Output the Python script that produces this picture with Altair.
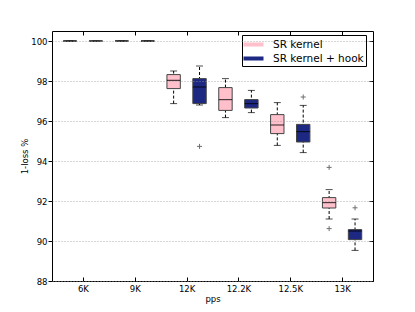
import json
import altair as alt
import pandas as pd

categories = ["6K", "9K", "12K", "12.2K", "12.5K", "13K"]
series = ["SR kernel", "SR kernel + hook"]
colors = ["#ffc0cb", "#1c2882"]

kernel_low = [100, 100, 96.87, 96.17, 94.78, 91.10]
kernel_q1 = [100, 100, 97.62, 96.53, 95.37, 91.65]
kernel_median = [100, 100, 98.03, 97.07, 95.80, 91.92]
kernel_q3 = [100, 100, 98.32, 97.67, 96.32, 92.17]
kernel_high = [100, 100, 98.50, 98.12, 96.92, 92.57]

hook_low = [100, 100, 96.80, 96.42, 94.42, 89.53]
hook_q1 = [100, 100, 96.87, 96.65, 94.95, 90.07]
hook_median = [100, 100, 97.70, 96.87, 95.47, 90.50]
hook_q3 = [100, 100, 98.12, 97.07, 95.83, 90.57]
hook_high = [100, 100, 98.75, 97.53, 96.78, 91.10]

outlier_category = ["13K", "13K", "12K", "12.5K", "13K"]
outlier_series = ["SR kernel", "SR kernel", "SR kernel + hook", "SR kernel + hook", "SR kernel + hook"]
outlier_value = [93.68, 90.62, 94.73, 97.20, 91.66]

y_ticks = [88, 90, 92, 94, 96, 98, 100]

stats = {
    "SR kernel": (kernel_low, kernel_q1, kernel_median, kernel_q3, kernel_high),
    "SR kernel + hook": (hook_low, hook_q1, hook_median, hook_q3, hook_high),
}

rows = []
for si, s in enumerate(series):
    lo, q1, med, q3, hi = stats[s]
    for ci, c in enumerate(categories):
        rows.append({"category": c, "series": s, "pos": 2 * ci + si + 1,
                     "low": lo[ci], "q1": q1[ci], "median": med[ci],
                     "q3": q3[ci], "high": hi[ci]})
df = pd.DataFrame(rows)

out_rows = []
for c, s, v in zip(outlier_category, outlier_series, outlier_value):
    out_rows.append({"category": c, "series": s,
                     "pos": 2 * categories.index(c) + series.index(s) + 1, "value": v})
odf = pd.DataFrame(out_rows)

x_ticks = [2 * i + 1.5 for i in range(len(categories))]
label_expr = json.dumps(categories) + "[floor(datum.value / 2)]"

FONT = "DejaVu Sans"
x_scale = alt.Scale(domain=[0.5, 12.5], nice=False, zero=False)
y_scale = alt.Scale(domain=[88, 100.5], nice=False, zero=False)

base = alt.Chart(df)

# whiskers (also carries the inward top/right ticks)
whiskers = base.mark_rule(color="black", strokeWidth=1, strokeDash=[3, 2]).encode(
    x=alt.X("pos:Q", scale=x_scale,
            axis=alt.Axis(orient="top", offset=-4, tickSize=4, labels=False, domain=False,
                          grid=False, title=None, values=x_ticks, tickColor="black")),
    y=alt.Y("low:Q", scale=y_scale,
            axis=alt.Axis(orient="right", offset=-4, tickSize=4, labels=False, domain=False,
                          grid=False, title=None, values=y_ticks, tickColor="black")),
    y2="high:Q",
)

caps_low = base.mark_tick(orient="horizontal", size=7, thickness=1, color="black").encode(
    x=alt.X("pos:Q", scale=x_scale, axis=None),
    y=alt.Y("low:Q", scale=y_scale, axis=None),
)
caps_high = base.mark_tick(orient="horizontal", size=7, thickness=1, color="black").encode(
    x=alt.X("pos:Q", scale=x_scale, axis=None),
    y=alt.Y("high:Q", scale=y_scale, axis=None),
)

boxes = base.mark_bar(size=13.4, stroke="#444444", strokeWidth=1).encode(
    x=alt.X("pos:Q", scale=x_scale,
            axis=alt.Axis(orient="bottom", offset=-4, tickSize=4, values=x_ticks,
                          labelExpr=label_expr, domain=False, grid=False, title="pps",
                          labelPadding=3, titlePadding=2, tickColor="black")),
    y=alt.Y("q1:Q", scale=y_scale,
            axis=alt.Axis(orient="left", values=y_ticks, tickSize=4, labelPadding=1,
                          domain=False, grid=True, gridDash=[1, 2], gridColor="#9a9a9a",
                          gridWidth=0.8, title="1-loss %", titlePadding=1, zindex=1,
                          tickColor="black")),
    y2="q3:Q",
    color=alt.Color("series:N",
                    scale=alt.Scale(domain=series, range=colors),
                    legend=alt.Legend(title=None, orient="none", legendX=190, legendY=4,
                                      symbolType="M-1.333,-0.267L1.333,-0.267L1.333,0.267L-1.333,0.267Z",
                                      symbolSize=225, symbolStrokeWidth=0, symbolOffset=2,
                                      labelFont=FONT, labelFontSize=10.5, labelColor="black",
                                      labelOffset=12, rowPadding=1, padding=2,
                                      strokeColor="black", fillColor="white", cornerRadius=0)),
)

medians = base.mark_tick(orient="horizontal", size=13.4, thickness=1.2, color="black").encode(
    x=alt.X("pos:Q", scale=x_scale, axis=None),
    y=alt.Y("median:Q", scale=y_scale, axis=None),
)

outliers = alt.Chart(odf).mark_point(shape="M-1,0L1,0M0,-1L0,1", size=25, filled=False,
                                     stroke="#333333", strokeWidth=1).encode(
    x=alt.X("pos:Q", scale=x_scale, axis=None),
    y=alt.Y("value:Q", scale=y_scale, axis=None),
)

chart = alt.layer(whiskers, caps_low, caps_high, boxes, medians, outliers).properties(
    width=321, height=250,
    autosize=alt.AutoSizeParams(type="none"),
    padding={"left": 44, "top": 23, "right": 20, "bottom": 30},
).configure_view(stroke="black", strokeWidth=1).configure_axis(
    labelFont=FONT, titleFont=FONT, labelFontSize=8.5, titleFontSize=8.5,
    titleFontWeight="normal", labelColor="black", titleColor="black",
)

chart.save("out.html", embed_options={"renderer": "svg", "actions": False})
